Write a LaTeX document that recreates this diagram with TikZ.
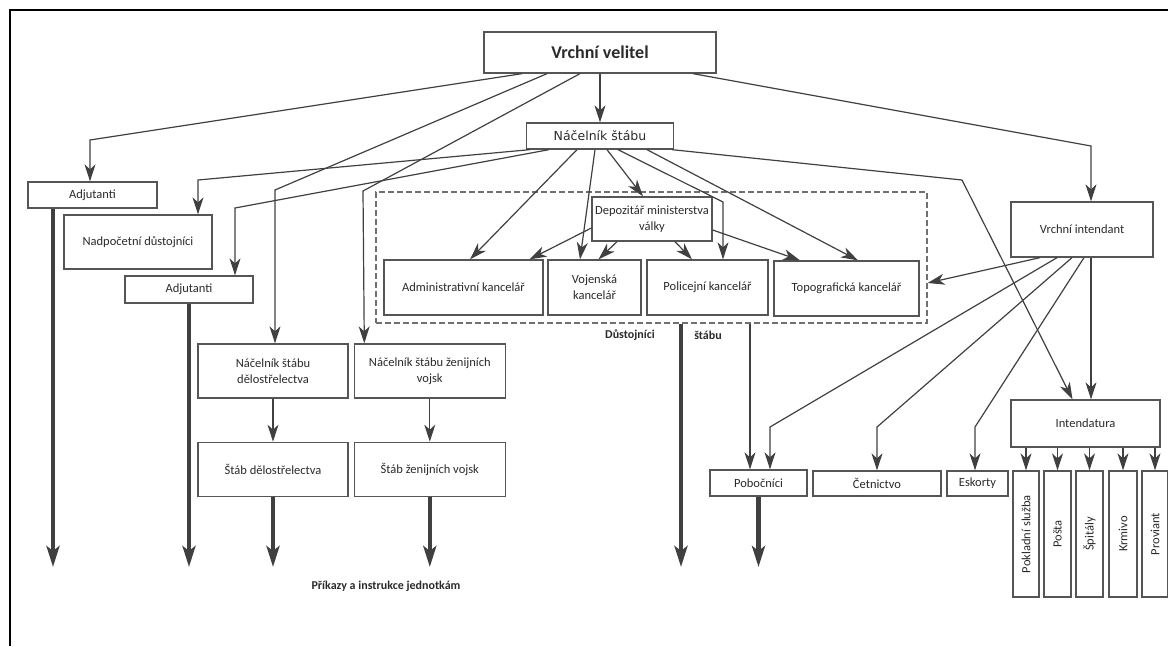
\documentclass[tikz,border=0pt]{standalone}
\usepackage{fontspec}
\setmainfont{Carlito}
\newfontfamily\dejavu{DejaVu Sans}
\usetikzlibrary{arrows.meta,positioning}
\definecolor{linegray}{HTML}{404040}
\definecolor{boxgray}{HTML}{555555}
\definecolor{dashgray}{HTML}{707070}
\definecolor{textgray}{HTML}{2A2A2A}
\tikzset{
  box/.style={draw=boxgray, line width=1.3pt, align=center, inner sep=0pt,
    font=\fontsize{12.5}{16}\selectfont, text=textgray},
  arr/.style={draw=linegray, line width=1.2pt,
    -{Stealth[length=17pt,width=11pt,inset=5pt]}},
  big/.style={draw=linegray, line width=4.5pt,
    -{Stealth[length=21pt,width=13pt,inset=5pt]}},
  lbl/.style={font=\bfseries\fontsize{12}{14}\selectfont, text=textgray},
}

\begin{document}
\begin{tikzpicture}[x=1pt, y=-1pt, node distance=5pt]
  \useasboundingbox (0,0) rectangle (1168,646);
  % page frame
  \draw[line width=2.5pt] (10,646) -- (10,10) -- (1168,10);

  \node[box, font=\bfseries\fontsize{18}{20}\selectfont,
        minimum width=232pt, minimum height=41pt] (vv) at (600,52.5) {Vrchní velitel};
  \node[box, font=\dejavu\fontsize{12.5}{15}\selectfont,
        minimum width=147pt, minimum height=26pt] (ns) at (600,136) {Náčelník štábu};

  % left column
  \node[box, minimum width=129pt, minimum height=26pt] (adj1) at (92.5,195) {Adjutanti};
  \node[box, minimum width=148pt, minimum height=54pt] (nadp) at (138,242) {Nadpočetní důstojníci};
  \node[box, minimum width=128pt, minimum height=27pt] (adj2) at (189,289.5) {Adjutanti};

  % staff offices
  \node[draw=dashgray, line width=1.2pt, dash pattern=on 6pt off 3pt,
        minimum width=551pt, minimum height=131pt] (stab) at (651.5,257.5) {};
  \node[box, minimum width=120pt, minimum height=44pt] (depo) at (652,219) {Depozitář ministerstva\\války};
  \node[box, minimum width=159pt, minimum height=55pt] (admin) at (463.5,287.5) {Administrativní kancelář};
  \node[box, minimum width=93pt, minimum height=55pt] (voj) at (594.5,287.5) {Vojenská\\kancelář};
  \node[box, minimum width=121pt, minimum height=55pt] (pol) at (707.5,287.5) {Policejní kancelář};
  \node[box, minimum width=145pt, minimum height=55pt] (topo) at (846.5,288.5) {Topografická kancelář};
  \node[lbl] (dust) at (630,335) {Důstojníci};
  \node[lbl] (stabu) at (708,335) {štábu};

  % artillery and engineers
  \node[box, minimum width=150pt, minimum height=54pt] (nsd) at (273,371) {Náčelník štábu\\dělostřelectva};
  \node[box, minimum width=151pt, minimum height=54pt, right=5pt of nsd] (nsz) {Náčelník štábu ženijních\\vojsk};
  \node[box, minimum width=150pt, minimum height=54pt, below=43pt of nsd] (sd) {Štáb dělostřelectva};
  \node[box, minimum width=151pt, minimum height=54pt, below=43pt of nsz] (sz) {Štáb ženijních vojsk};

  % intendance
  \node[box, minimum width=142pt, minimum height=55pt] (vi) at (1082,229.5) {Vrchní intendant};
  \node[box, minimum width=97pt, minimum height=26pt] (pob) at (758.5,483) {Pobočníci};
  \node[box, minimum width=128pt, minimum height=25pt] (cet) at (877,483.5) {Četnictvo};
  \node[box, minimum width=61pt, minimum height=25pt] (esk) at (977.5,483.5) {Eskorty};
  \node[box, minimum width=149pt, minimum height=47pt] (intd) at (1085.5,423.5) {Intendatura};
  \node[box, rotate=90, minimum width=126pt, minimum height=26pt] (pok) at (1026,534) {Pokladní služba};
  \node[box, rotate=90, minimum width=126pt, minimum height=27pt] (posta) at (1057.5,534) {Pošta};
  \node[box, rotate=90, minimum width=126pt, minimum height=27pt] (spit) at (1089.5,534) {Špitály};
  \node[box, rotate=90, minimum width=126pt, minimum height=28pt] (krm) at (1123,534) {Krmivo};
  \node[box, rotate=90, minimum width=126pt, minimum height=26pt] (prov) at (1155,534) {Proviant};

  \node[lbl] (prik) at (386,586) {Příkazy a instrukce jednotkám};

  % from the commander
  \draw[arr] (vv.south) -- (ns.north);
  \draw[arr] ([xshift=-78pt]vv.south) -- (90,140) -- ([xshift=-2.5pt]adj1.north);
  \draw[arr] ([xshift=-53pt]vv.south) -- (275,190) -- ([xshift=2pt]nsd.north);
  \draw[arr] ([xshift=-20pt]vv.south) -- (363,191) -- ([xshift=-65.5pt]nsz.north);
  \draw[arr] ([xshift=93pt]vv.south) -- (1091,146) -- ([xshift=9pt]vi.north);

  % from the chief of staff
  \draw[arr] ([xshift=-70pt]ns.south) -- (198,180) -- ([xshift=60pt]nadp.north);
  \draw[arr] ([xshift=-51pt]ns.south) -- (235,208) -- ([xshift=46pt]adj2.north);
  \draw[arr] ([xshift=-23pt]ns.south) -- ([xshift=6.5pt]admin.north);
  \draw[arr] ([xshift=-5pt]ns.south) -- ([xshift=-14.5pt]voj.north);
  \draw[arr] ([xshift=7pt]ns.south) -- ([xshift=-9pt]depo.north);
  \draw[arr] ([xshift=18pt]ns.south) -- (723,202) -- ([xshift=15.5pt]pol.north);
  \draw[arr] ([xshift=47pt]ns.south) -- ([xshift=11.5pt]topo.north);
  \draw[arr] ([xshift=72pt]ns.south) -- (962,180) -- ([xshift=-13pt]intd.north);

  % from the depository
  \draw[arr] ([yshift=-9pt]depo.west) -- ([xshift=66pt]admin.north);
  \draw[arr] ([xshift=-35pt]depo.south) -- ([xshift=4pt]voj.north);
  \draw[arr] ([xshift=23pt]depo.south) -- ([xshift=-15.5pt]pol.north);
  \draw[arr] ([yshift=-11pt]depo.east) -- ([xshift=-46.5pt]topo.north);

  % from the chief intendant
  \draw[arr] ([xshift=-42pt]vi.south) -- ([yshift=-25.5pt]stab.east);
  \draw[arr] ([xshift=-25pt]vi.south) -- (770,427) -- ([xshift=11.5pt]pob.north);
  \draw[arr] ([xshift=-10pt]vi.south) -- (877,427) -- (cet.north);
  \draw[arr] ([xshift=2pt]vi.south) -- (975,427) -- ([xshift=-2.5pt]esk.north);
  \draw[arr] ([xshift=9pt]vi.south) -- ([xshift=5.5pt]intd.north);
  \draw[arr] ([xshift=98.5pt]stab.south) -- ([xshift=-8.5pt]pob.north);

  \foreach \n in {pok,posta,spit,krm,prov}
    \draw[arr] (intd.south -| \n) -- (\n);

  \draw[arr] (nsd) -- (sd);
  \draw[arr] (nsz) -- (sz);

  % orders to the units
  \coordinate (bottom) at (0,567);
  \draw[big] ([xshift=-39.5pt]adj1.south) coordinate (o1) -- (o1 |- bottom);
  \draw[big] (adj2.south) -- (adj2.south |- bottom);
  \draw[big] (sd.south) -- (sd.south |- bottom);
  \draw[big] (sz.south) -- (sz.south |- bottom);
  \draw[big] ([xshift=29.5pt]stab.south) coordinate (o2) -- (o2 |- bottom);
  \draw[big] (pob.south) -- (pob.south |- bottom);
\end{tikzpicture}
\end{document}
